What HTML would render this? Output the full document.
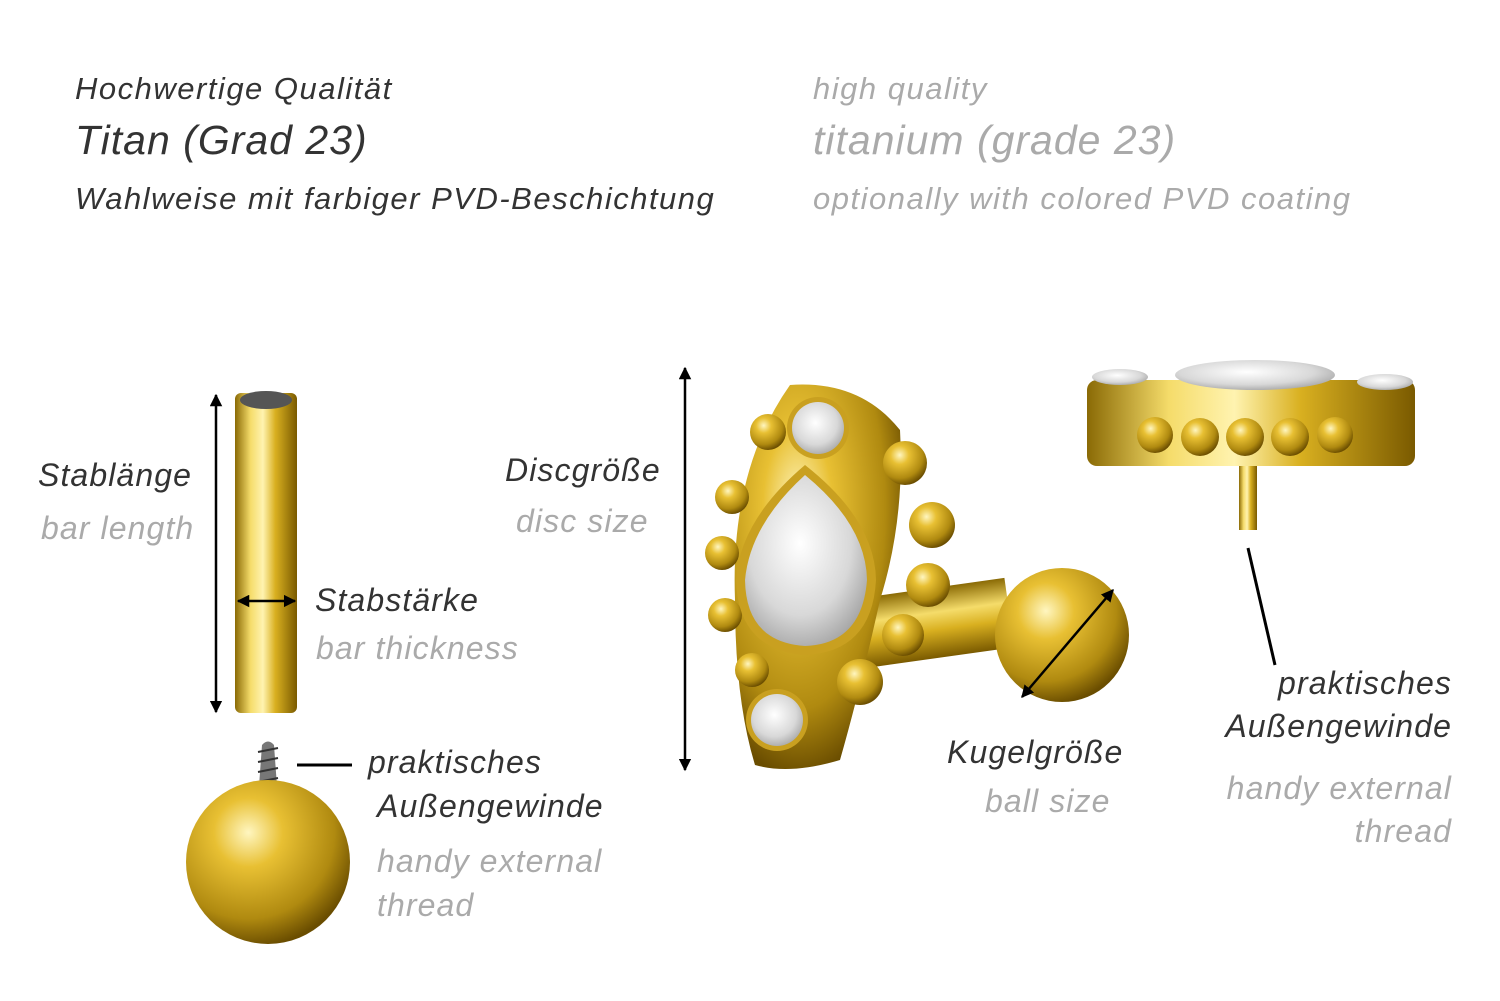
<!DOCTYPE html>
<html><head><meta charset="utf-8"><style>
body{margin:0;background:#fff;width:1500px;height:1001px;overflow:hidden;position:relative;font-family:"Liberation Sans",sans-serif;font-style:italic}
.t{position:absolute;white-space:nowrap;line-height:1;letter-spacing:1.1px}
.s{letter-spacing:1.5px}.b{letter-spacing:1px}
.d{color:#333}.g{color:#aaa}
svg{position:absolute;left:0;top:0}
</style></head><body>
<svg width="1500" height="1001" viewBox="0 0 1500 1001">
<defs>
<linearGradient id="gh" x1="0" x2="1" y1="0" y2="0">
<stop offset="0" stop-color="#8a6a05"/><stop offset=".25" stop-color="#f5dc6a"/><stop offset=".45" stop-color="#fff3b0"/><stop offset=".65" stop-color="#d9b020"/><stop offset="1" stop-color="#7a5a00"/></linearGradient>
<radialGradient id="rb" cx=".38" cy=".32" r=".7">
<stop offset="0" stop-color="#fff6c0"/><stop offset=".3" stop-color="#e8c033"/><stop offset=".75" stop-color="#b08a10"/><stop offset="1" stop-color="#6a4d00"/></radialGradient>
<radialGradient id="st" cx=".45" cy=".4" r=".7">
<stop offset="0" stop-color="#fff"/><stop offset=".6" stop-color="#d8d8d8"/><stop offset="1" stop-color="#999"/></radialGradient>
<linearGradient id="gv" x1="0" x2="0" y1="0" y2="1">
<stop offset="0" stop-color="#8a6a05"/><stop offset=".35" stop-color="#f5dc6a"/><stop offset=".6" stop-color="#d9b020"/><stop offset="1" stop-color="#7a5a00"/></linearGradient>
<marker id="a" viewBox="0 0 10 10" refX="9" refY="5" markerWidth="5" markerHeight="5" orient="auto-start-reverse"><path d="M0,0L10,5L0,10z" fill="#000"/></marker>
</defs>
<rect x="235" y="393" width="62" height="320" rx="6" fill="url(#gh)"/>
<ellipse cx="266" cy="400" rx="26" ry="9" fill="#555"/>
<line x1="216" y1="395" x2="216" y2="712" stroke="#000" stroke-width="2.5" marker-start="url(#a)" marker-end="url(#a)"/>
<line x1="238" y1="601" x2="295" y2="601" stroke="#000" stroke-width="2.5" marker-start="url(#a)" marker-end="url(#a)"/>
<path d="M258,800 L262,745 Q268,738 274,745 L278,800z" fill="#777"/>
<g stroke="#333" stroke-width="2"><line x1="258" y1="752" x2="278" y2="748"/><line x1="258" y1="762" x2="278" y2="758"/><line x1="258" y1="772" x2="278" y2="768"/><line x1="258" y1="782" x2="278" y2="778"/><line x1="258" y1="792" x2="278" y2="788"/></g>
<circle cx="268" cy="862" r="82" fill="url(#rb)"/>
<line x1="297" y1="765" x2="352" y2="765" stroke="#000" stroke-width="3"/>
<line x1="685" y1="368" x2="685" y2="770" stroke="#000" stroke-width="2.5" marker-start="url(#a)" marker-end="url(#a)"/>
<rect x="860" y="588" width="150" height="70" fill="url(#gv)" transform="rotate(-8 935 623)"/>
<circle cx="1062" cy="635" r="67" fill="url(#rb)"/>
<line x1="1022" y1="697" x2="1113" y2="590" stroke="#000" stroke-width="2.5" marker-start="url(#a)" marker-end="url(#a)"/>
<path d="M790,385 Q860,380 900,430 Q905,520 880,600 Q860,690 840,760 Q790,775 755,765 Q735,700 735,600 Q730,470 790,385z" fill="url(#rb)"/>
<g fill="url(#rb)">
<circle cx="768" cy="432" r="18"/><circle cx="732" cy="497" r="17"/><circle cx="722" cy="553" r="17"/><circle cx="725" cy="615" r="17"/><circle cx="752" cy="670" r="17"/>
<circle cx="905" cy="463" r="22"/><circle cx="932" cy="525" r="23"/><circle cx="928" cy="585" r="22"/><circle cx="903" cy="635" r="21"/><circle cx="860" cy="682" r="23"/>
</g>
<path d="M805,465 Q875,520 876,580 Q872,652 805,655 Q738,650 736,580 Q740,520 805,465z" fill="#c9a020"/>
<path d="M805,475 Q866,525 867,580 Q862,644 805,646 Q746,642 745,580 Q750,525 805,475z" fill="url(#st)"/>
<circle cx="818" cy="428" r="31" fill="#c9a020"/><circle cx="818" cy="428" r="26" fill="url(#st)"/>
<circle cx="777" cy="720" r="31" fill="#c9a020"/><circle cx="777" cy="720" r="26" fill="url(#st)"/>
<rect x="1087" y="380" width="328" height="86" rx="10" fill="url(#gh)"/>
<ellipse cx="1255" cy="375" rx="80" ry="15" fill="url(#st)"/>
<ellipse cx="1120" cy="377" rx="28" ry="8" fill="url(#st)"/>
<ellipse cx="1385" cy="382" rx="28" ry="8" fill="url(#st)"/>
<g fill="url(#rb)"><circle cx="1155" cy="435" r="18"/><circle cx="1200" cy="437" r="19"/><circle cx="1245" cy="437" r="19"/><circle cx="1290" cy="437" r="19"/><circle cx="1335" cy="435" r="18"/></g>
<rect x="1239" y="466" width="18" height="64" fill="url(#gh)"/>
<line x1="1248" y1="548" x2="1275" y2="665" stroke="#000" stroke-width="3"/>
</svg>
<div class="t d s" style="left:75px;top:73px;font-size:31px">Hochwertige Qualität</div>
<div class="t d b" style="left:75px;top:120px;font-size:41px">Titan (Grad 23)</div>
<div class="t d s" style="left:75px;top:183px;font-size:31px">Wahlweise mit farbiger PVD-Beschichtung</div>
<div class="t g s" style="left:813px;top:73px;font-size:31px">high quality</div>
<div class="t g b" style="left:813px;top:120px;font-size:41px">titanium (grade 23)</div>
<div class="t g s" style="left:813px;top:183px;font-size:31px">optionally with colored PVD coating</div>
<div class="t d" style="left:38px;top:459px;font-size:32px">Stablänge</div>
<div class="t g" style="left:41px;top:512px;font-size:32px">bar length</div>
<div class="t d" style="left:315px;top:584px;font-size:32px">Stabstärke</div>
<div class="t g" style="left:316px;top:632px;font-size:32px">bar thickness</div>
<div class="t d" style="left:368px;top:746px;font-size:32px">praktisches</div>
<div class="t d" style="left:377px;top:790px;font-size:32px">Außengewinde</div>
<div class="t g" style="left:377px;top:845px;font-size:32px">handy external</div>
<div class="t g" style="left:377px;top:889px;font-size:32px">thread</div>
<div class="t d" style="left:505px;top:454px;font-size:32px">Discgröße</div>
<div class="t g" style="left:516px;top:505px;font-size:32px">disc size</div>
<div class="t d" style="left:947px;top:736px;font-size:32px">Kugelgröße</div>
<div class="t g" style="left:985px;top:785px;font-size:32px">ball size</div>
<div class="t d" style="right:48px;top:667px;font-size:32px">praktisches</div>
<div class="t d" style="right:48px;top:710px;font-size:32px">Außengewinde</div>
<div class="t g" style="right:48px;top:772px;font-size:32px">handy external</div>
<div class="t g" style="right:48px;top:815px;font-size:32px">thread</div>
</body></html>
